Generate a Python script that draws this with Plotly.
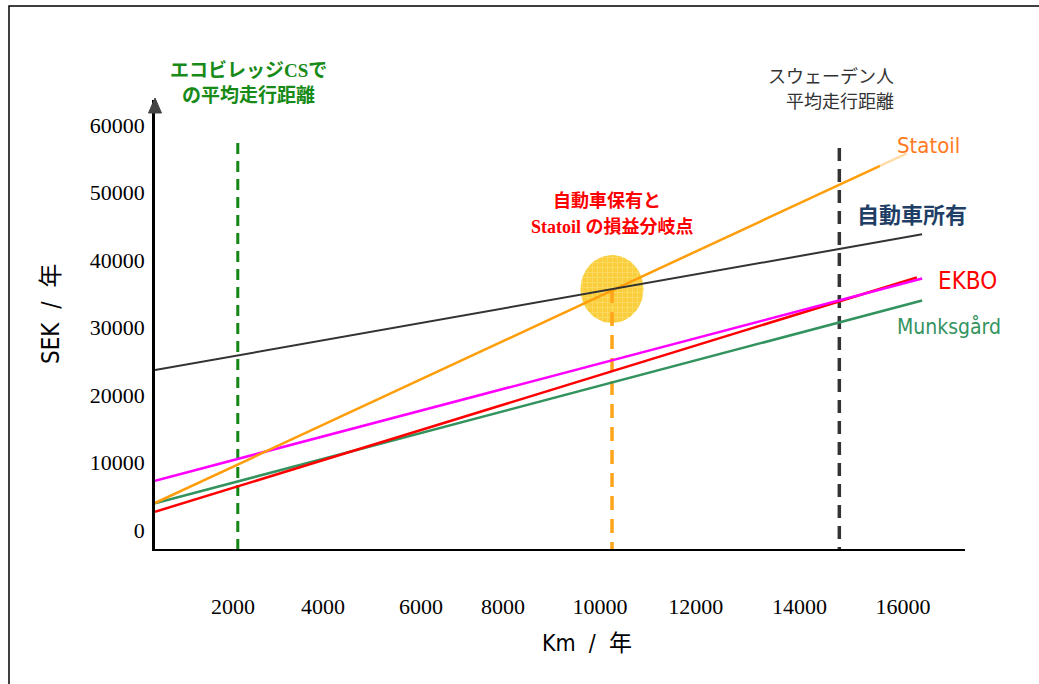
import numpy as np
import plotly.graph_objects as go

# ---------------- data ----------------
car_km = [370, 16400]            # 自動車所有
car_sek = [23700, 43800]
statoil_km = [370, 15520, 16080]  # Statoil (last segment fades out)
statoil_sek = [4000, 53950, 55800]
ekbo_km = [370, 16290]           # EKBO
ekbo_sek = [2700, 37400]
munks_km = [370, 16400]          # Munksgård
munks_sek = [3950, 34000]
pink_km = [370, 16400]           # unlabeled magenta line
pink_sek = [7300, 37250]

eco_km = 2100          # エコビレッジCSでの平均走行距離
breakeven_km = 9920    # 自動車保有とStatoilの損益分岐点
breakeven_sek = 35700
swede_km = 14670       # スウェーデン人平均走行距離

x_tick_labels = ["2000", "4000", "6000", "8000", "10000", "12000", "14000", "16000"]
x_tick_pos = [2000, 3880, 5930, 7640, 9670, 11670, 13840, 16000]   # where the labels sit in the picture
y_tick_vals = [0, 10000, 20000, 30000, 40000, 50000, 60000]
y_tick_labels = ["0", "10000", "20000", "30000", "40000", "50000", "60000"]

# ---------------- layout geometry ----------------
W, H = 1039, 684
PL, PR, PT, PB = 155, 965, 100, 549
X0, X1 = 370, 17296
Y0, Y1 = -2815, 63704


def kx(px):
    return X0 + (px - PL) / (PR - PL) * (X1 - X0)


def ky(py):
    return Y0 + (PB - py) / (PB - PT) * (Y1 - Y0)


def ppx(px):
    return (px - PL) / (PR - PL)


def ppy(py):
    return (PB - py) / (PB - PT)


fig = go.Figure()

# break-even highlight circle (patterned)
t = np.linspace(0, 2 * np.pi, 80)
rx = (X1 - X0) / (PR - PL) * 31.5
ry = (Y1 - Y0) / (PB - PT) * 34
fig.add_trace(go.Scatter(
    x=breakeven_km + rx * np.cos(t), y=breakeven_sek + ry * np.sin(t),
    mode="lines", line=dict(width=0), fill="toself",
    fillcolor="#F9D03C",
    fillpattern=dict(shape="+", bgcolor="#F9CE3A", fgcolor="#FDE58A", size=5, solidity=0.35),
    hoverinfo="skip", showlegend=False))

# vertical dashed reference lines
fig.add_trace(go.Scatter(x=[eco_km, eco_km], y=[ky(143), ky(PB)], mode="lines",
                         line=dict(color="#138613", width=3, dash="11px,7px"),
                         hoverinfo="skip", showlegend=False))
fig.add_trace(go.Scatter(x=[breakeven_km, breakeven_km], y=[breakeven_sek, ky(PB)], mode="lines",
                         line=dict(color="#FFA41B", width=3.5, dash="14px,9px"),
                         hoverinfo="skip", showlegend=False))
fig.add_trace(go.Scatter(x=[swede_km, swede_km], y=[ky(148), ky(PB)], mode="lines",
                         line=dict(color="#333333", width=3.5, dash="13px,8px"),
                         hoverinfo="skip", showlegend=False))

# cost lines
fig.add_trace(go.Scatter(x=munks_km, y=munks_sek, mode="lines", name="Munksgård",
                         line=dict(color="#33935F", width=2.5)))
fig.add_trace(go.Scatter(x=ekbo_km, y=ekbo_sek, mode="lines", name="EKBO",
                         line=dict(color="#FF0000", width=2.5)))
fig.add_trace(go.Scatter(x=pink_km, y=pink_sek, mode="lines", name="magenta",
                         line=dict(color="#FF00FF", width=2.5)))
fig.add_trace(go.Scatter(x=statoil_km[:2], y=statoil_sek[:2], mode="lines", name="Statoil",
                         line=dict(color="#FF9E0A", width=2.5)))
fig.add_trace(go.Scatter(x=statoil_km[1:], y=statoil_sek[1:], mode="lines", name="Statoil",
                         line=dict(color="#FFDCA8", width=2.5)))
fig.add_trace(go.Scatter(x=car_km, y=car_sek, mode="lines", name="自動車所有",
                         line=dict(color="#333333", width=2)))

serif = "Liberation Serif, Noto Sans CJK JP, serif"
narrow = "Liberation Sans Narrow, DejaVu Sans Condensed, Noto Sans CJK JP, sans-serif"
cjk = "Noto Sans CJK JP, sans-serif"

fig.update_layout(
    width=W, height=H,
    margin=dict(l=PL, r=W - PR, t=PT, b=H - PB, pad=0),
    paper_bgcolor="white", plot_bgcolor="white",
    showlegend=False,
    xaxis=dict(range=[X0, X1], showgrid=False, zeroline=False,
               showline=True, linecolor="black", linewidth=2,
               tickmode="array", tickvals=x_tick_pos, ticktext=x_tick_labels,
               ticks="", ticklabelstandoff=37,
               tickfont=dict(family=serif, size=22, color="black")),
    yaxis=dict(range=[Y0, Y1], showgrid=False, zeroline=False,
               showline=True, linecolor="black", linewidth=2.5,
               tickmode="array", tickvals=y_tick_vals, ticktext=y_tick_labels,
               ticks="", ticklabelstandoff=3,
               tickfont=dict(family=serif, size=22, color="black")),
)

# frame and axis arrow
fig.add_shape(type="rect", xref="paper", yref="paper",
              x0=ppx(9), x1=ppx(1060), y0=ppy(700), y1=ppy(6),
              line=dict(color="black", width=1.5), fillcolor="rgba(0,0,0,0)")
fig.add_shape(type="path", xref="paper", yref="paper",
              path=f"M {ppx(148.5)} {ppy(113)} L {ppx(155)} {ppy(98)} L {ppx(161.5)} {ppy(113)} Z",
              line=dict(color="#444", width=1), fillcolor="#444")

annos = [
    dict(text="エコビレッジCSで", x=ppx(248), y=ppy(70), color="#178A17",
         family=serif, size=19, bold=True, xanchor="center"),
    dict(text="の平均走行距離", x=ppx(248), y=ppy(96), color="#178A17",
         family=serif, size=19, bold=True, xanchor="center"),
    dict(text="スウェーデン人", x=ppx(896), y=ppy(75), color="#333333",
         family=cjk, size=18, bold=False, xanchor="right"),
    dict(text="平均走行距離", x=ppx(896), y=ppy(100), color="#333333",
         family=cjk, size=18, bold=False, xanchor="right"),
    dict(text="自動車保有と", x=ppx(607), y=ppy(201), color="#FF0000",
         family=serif, size=18, bold=True, xanchor="center"),
    dict(text="Statoil の損益分岐点", x=ppx(612), y=ppy(227), color="#FF0000",
         family=serif, size=18, bold=True, xanchor="center"),
    dict(text="Statoil", x=ppx(895), y=ppy(145), color="#FF7A1F",
         family=narrow, size=22, bold=False, xanchor="left"),
    dict(text="自動車所有", x=ppx(855), y=ppy(213), color="#1F3F66",
         family=cjk, size=22, bold=True, xanchor="left"),
    dict(text="EKBO", x=ppx(936), y=ppy(281), color="#FF0000",
         family=narrow, size=24, bold=False, xanchor="left"),
    dict(text="Munksgård", x=ppx(895), y=ppy(326), color="#33935F",
         family=narrow, size=21, bold=False, xanchor="left"),
    dict(text="Km  /  年", x=ppx(587), y=ppy(643), color="black",
         family=narrow, size=23, bold=False, xanchor="center"),
]
for a in annos:
    txt = f"<b>{a['text']}</b>" if a["bold"] else a["text"]
    fig.add_annotation(text=txt, x=a["x"], y=a["y"], xref="paper", yref="paper",
                       xanchor=a["xanchor"], yanchor="middle",
                       showarrow=False, font=dict(family=a["family"], size=a["size"], color=a["color"]))

fig.add_annotation(text="SEK  /  年", x=ppx(51), y=ppy(314), xref="paper", yref="paper",
                   xanchor="center", yanchor="middle", textangle=-90, showarrow=False,
                   font=dict(family=narrow, size=24, color="black"))

fig.write_html("out.html")
